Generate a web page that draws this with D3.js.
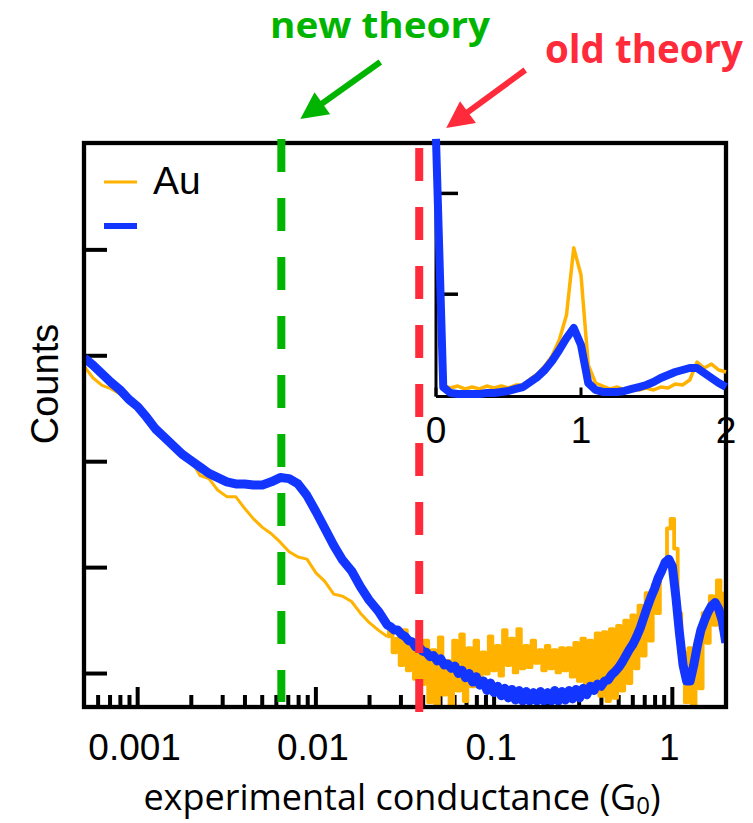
<!DOCTYPE html>
<html>
<head>
<meta charset="utf-8">
<script src="https://cdn.jsdelivr.net/npm/d3@7"></script>
<style>
  body { margin: 0; background: #fff; }
</style>
</head>
<body>
<div id="chart"></div>
<script>
const width = 753, height = 823;

// histogram bins, log10 of conductance (G0): coarse below -1.6, fine above
const binLog = [
  -3.30, -3.25, -3.20, -3.15, -3.10, -3.05, -3.00, -2.95, -2.90, -2.85,
  -2.80, -2.75, -2.70, -2.65, -2.60, -2.55, -2.50, -2.45, -2.40, -2.35,
  -2.30, -2.25, -2.20, -2.15, -2.10, -2.05, -2.00, -1.95, -1.90, -1.85,
  -1.80, -1.75, -1.70, -1.65,
  -1.60, -1.58, -1.56, -1.54, -1.52, -1.50, -1.48, -1.46, -1.44, -1.42,
  -1.40, -1.38, -1.36, -1.34, -1.32, -1.30, -1.28, -1.26, -1.24, -1.22,
  -1.20, -1.18, -1.16, -1.14, -1.12, -1.10, -1.08, -1.06, -1.04, -1.02,
  -1.00, -0.98, -0.96, -0.94, -0.92, -0.90, -0.88, -0.86, -0.84, -0.82,
  -0.80, -0.78, -0.76, -0.74, -0.72, -0.70, -0.68, -0.66, -0.64, -0.62,
  -0.60, -0.58, -0.56, -0.54, -0.52, -0.50, -0.48, -0.46, -0.44, -0.42,
  -0.40, -0.38, -0.36, -0.34, -0.32, -0.30, -0.28, -0.26, -0.24, -0.22,
  -0.20, -0.18, -0.16, -0.14, -0.12, -0.10, -0.08, -0.06, -0.04, -0.02,
  0.00, 0.02, 0.04, 0.06, 0.08, 0.10, 0.12, 0.14, 0.16, 0.18,
  0.20, 0.22, 0.24, 0.26, 0.28, 0.30
];

const auCounts = [
  390, 379, 372, 369, 364, 357, 350, 340, 333, 323,
  316, 309, 301, 287, 284, 273, 267, 267, 256, 246,
  238, 232, 224, 215, 210, 208, 195, 187, 175, 173,
  168, 157, 148, 141,
  135, 144, 120, 133, 108, 141, 103, 129, 95, 137,
  90, 131, 73, 122, 69, 134, 80, 112, 70, 131,
  84, 137, 74, 124, 88, 131, 93, 120, 100, 135,
  103, 126, 98, 141, 108, 133, 101, 142, 105, 126,
  106, 131, 110, 122, 103, 126, 105, 122, 101, 124,
  103, 124, 97, 129, 93, 133, 90, 131, 84, 138,
  79, 139, 74, 142, 77, 145, 84, 150, 91, 155,
  105, 164, 117, 176, 131, 184, 157, 195, 207, 237,
  246, 218, 157, 120, 73, 124, 69, 131, 86, 157,
  129, 173, 146, 188, 142, 176
];

const blueCounts = [
  398, 391, 383, 375, 368, 359, 352, 342, 331, 323,
  315, 307, 301, 295, 289, 285, 281, 279, 279, 278,
  278, 281, 285, 284, 279, 268, 253, 237, 221, 207,
  197, 182, 169, 159,
  146, 144, 141, 141, 137, 135, 131, 130, 125, 125,
  121, 120, 116, 117, 112, 114, 108, 109, 105, 107,
  100, 103, 96, 100, 92, 97, 89, 93, 84, 91,
  82, 88, 79, 86, 77, 85, 75, 84, 74, 83,
  74, 82, 74, 83, 74, 82, 74, 84, 74, 83,
  75, 84, 76, 85, 77, 86, 80, 88, 84, 90,
  88, 93, 94, 99, 102, 106, 111, 117, 123, 128,
  135, 143, 153, 163, 172, 180, 190, 197, 205, 208,
  201, 172, 138, 108, 93, 93, 108, 126, 141, 150,
  158, 164, 167, 161, 150, 129
];

// inset: linear conductance
const insetG = [
  0, 0.05, 0.1, 0.15, 0.2, 0.25, 0.3, 0.35, 0.4, 0.45,
  0.5, 0.55, 0.6, 0.65, 0.7, 0.75, 0.8, 0.85, 0.9, 0.95,
  1.0, 1.05, 1.1, 1.15, 1.2, 1.25, 1.3, 1.35, 1.4, 1.45,
  1.5, 1.55, 1.6, 1.65, 1.7, 1.75, 1.8, 1.85, 1.9, 1.95, 2.0
];
const insetAu = [
  2200, 99, 69, 89, 60, 79, 60, 89, 69, 89,
  69, 99, 99, 159, 208, 288, 387, 546, 794, 1460,
  1190, 298, 119, 89, 60, 79, 50, 69, 50, 69,
  50, 79, 69, 109, 99, 149, 327, 268, 307, 248, 228
];
const insetBlue = [
  2540, 79, 20, 10, 10, 10, 10, 20, 20, 30,
  40, 60, 79, 129, 179, 248, 337, 446, 565, 665,
  496, 119, 50, 30, 30, 30, 40, 60, 79, 99,
  129, 169, 198, 228, 248, 268, 268, 218, 169, 119, 79
];

const xMajor = [0.001, 0.01, 0.1, 1];
const xTickLabels = ["0.001", "0.01", "0.1", "1"];
const yTicks = [100, 200, 300, 400, 500];
const insetXTicks = [0, 1, 2];
const insetYTicks = [1000, 2000];

const orange = "#ffb300", blue = "#1236ff";

const theory = [
  {name: "new theory", g: 0.0064, color: "#00b400", y1: 139, y2: 702,
   tip: [19, -24], tail: [99, -81], label: [270, 38], size: 35, span: 220},
  {name: "old theory", g: 0.038, color: "#ff2b3b", y1: 148, y2: 712,
   tip: [27, -15], tail: [106, -73], label: [545, 63], size: 39, span: 198}
];

const svg = d3.select("#chart").append("svg")
    .attr("width", width)
    .attr("height", height);

const mLeft = 84, mRight = 726, mTop = 143, mBottom = 707;

const x = d3.scaleLog().domain([5e-4, 2]).range([mLeft, mRight]);
const y = d3.scaleLinear().domain([68.4, 600.9]).range([mBottom, mTop]);

const isMajor = d => Math.abs(Math.log10(d) - Math.round(Math.log10(d))) < 1e-6;

// ticks (under the data)
const ticks = svg.append("g");
ticks.selectAll(".xt")
    .data(x.ticks().filter(d => d > 5e-4 && d < 2))
    .enter().append("line")
    .attr("x1", d => x(d)).attr("x2", d => x(d))
    .attr("y1", mBottom).attr("y2", d => mBottom - (isMajor(d) ? 20 : 12))
    .attr("stroke", "#000").attr("stroke-width", 4);

ticks.selectAll(".yt")
    .data(yTicks)
    .enter().append("line")
    .attr("x1", mLeft).attr("x2", mLeft + 23)
    .attr("y1", d => y(d)).attr("y2", d => y(d))
    .attr("stroke", "#000").attr("stroke-width", 4);

svg.append("g").selectAll("text")
    .data(xMajor)
    .enter().append("text")
    .attr("x", d => x(d) - 3)
    .attr("y", 760)
    .attr("text-anchor", "middle")
    .style("font-family", "'Liberation Sans', Arial, sans-serif")
    .style("font-size", "37px")
    .text((d, i) => xTickLabels[i]);

// data
svg.append("clipPath").attr("id", "plotclip")
  .append("rect").attr("x", mLeft).attr("y", mTop)
    .attr("width", mRight - mLeft).attr("height", mBottom - mTop);

const fine = binLog.indexOf(-1.60);
const pts = counts => binLog.map((v, i) => [Math.pow(10, v), counts[i]]);

// orange: smooth part as a line, fine noisy part as histogram steps
const pieces = [
  {p: pts(auCounts).slice(0, fine + 1), color: orange, width: 3, curve: d3.curveLinear},
  {p: pts(auCounts).slice(fine), color: orange, width: 3.8, curve: d3.curveStep},
  {p: pts(blueCounts), color: blue, width: 9, curve: d3.curveLinear}
];

svg.append("g").attr("clip-path", "url(#plotclip)")
  .selectAll("path")
    .data(pieces)
    .enter().append("path")
    .attr("d", s => d3.line().curve(s.curve).x(d => x(d[0])).y(d => y(d[1]))(s.p))
    .attr("fill", "none")
    .attr("stroke", s => s.color)
    .attr("stroke-width", s => s.width)
    .attr("stroke-linejoin", "round");

// frame
svg.append("rect")
    .attr("x", mLeft).attr("y", mTop)
    .attr("width", mRight - mLeft).attr("height", mBottom - mTop)
    .attr("fill", "none").attr("stroke", "#000").attr("stroke-width", 4.3);

// inset
const xi = d3.scaleLinear().domain([0, 2]).range([436, mRight]);
const yi = d3.scaleLinear().domain([0, 2500]).range([395, mTop]);
const inset = svg.append("g");
const ib = 396.5;

inset.append("line").attr("x1", xi(0)).attr("x2", xi(0)).attr("y1", mTop).attr("y2", ib)
    .attr("stroke", "#000").attr("stroke-width", 3);
inset.append("line").attr("x1", xi(0)).attr("x2", mRight).attr("y1", ib).attr("y2", ib)
    .attr("stroke", "#000").attr("stroke-width", 3);
inset.selectAll(".iyt").data(insetYTicks).enter().append("line")
    .attr("x1", xi(0)).attr("x2", xi(0) + 22)
    .attr("y1", d => yi(d)).attr("y2", d => yi(d))
    .attr("stroke", "#000").attr("stroke-width", 3.5);
inset.selectAll(".ixt").data(insetXTicks).enter().append("line")
    .attr("x1", d => xi(d)).attr("x2", d => xi(d))
    .attr("y1", ib).attr("y2", ib - 9)
    .attr("stroke", "#000").attr("stroke-width", 3);
inset.selectAll("text").data(insetXTicks).enter().append("text")
    .attr("x", d => xi(d))
    .attr("y", 443)
    .attr("text-anchor", "middle")
    .style("font-family", "'Liberation Sans', Arial, sans-serif")
    .style("font-size", "37px")
    .text(d => d);

const iline = d3.line().x(d => xi(d[0])).y(d => yi(d[1]));
const insetSeries = [
  {counts: insetAu, color: orange, width: 3.5},
  {counts: insetBlue, color: blue, width: 8}
];
inset.selectAll("path").data(insetSeries).enter().append("path")
    .attr("d", s => iline(insetG.map((g, i) => [g, s.counts[i]])))
    .attr("fill", "none")
    .attr("stroke", s => s.color)
    .attr("stroke-width", s => s.width)
    .attr("stroke-linejoin", "round");

// theory lines, arrows, labels
const th = svg.append("g");
th.selectAll("line").data(theory).enter().append("line")
    .attr("x1", d => x(d.g)).attr("x2", d => x(d.g))
    .attr("y1", d => d.y1).attr("y2", d => d.y2)
    .attr("stroke", d => d.color)
    .attr("stroke-width", 8)
    .attr("stroke-dasharray", "33 26");

theory.forEach(d => {
  const tx = x(d.g) + d.tip[0], ty = mTop + d.tip[1];
  const sx = x(d.g) + d.tail[0], sy = mTop + d.tail[1];
  const len = Math.hypot(sx - tx, sy - ty);
  const ux = (sx - tx) / len, uy = (sy - ty) / len;
  const hl = 27, hw = 13.5;
  const bx = tx + ux * hl, by = ty + uy * hl;
  th.append("line")
      .attr("x1", sx).attr("y1", sy).attr("x2", bx - ux * 2).attr("y2", by - uy * 2)
      .attr("stroke", d.color).attr("stroke-width", 6);
  th.append("path")
      .attr("d", `M${tx},${ty}L${bx - uy * hw},${by + ux * hw}L${bx + uy * hw},${by - ux * hw}Z`)
      .attr("fill", d.color);
  th.append("text")
      .attr("x", d.label[0]).attr("y", d.label[1])
      .attr("fill", d.color)
      .attr("textLength", d.span)
      .attr("lengthAdjust", "spacingAndGlyphs")
      .style("font-family", "'Open Sans', sans-serif")
      .style("font-weight", "700")
      .style("font-size", d.size + "px")
      .text(d.name);
});

// legend
const legend = svg.append("g");
const legendItems = [
  {label: "Au", color: orange, width: 3, y: 182},
  {label: "", color: blue, width: 6, y: 226}
];
legend.selectAll("line").data(legendItems).enter().append("line")
    .attr("x1", 104).attr("x2", 137)
    .attr("y1", d => d.y).attr("y2", d => d.y)
    .attr("stroke", d => d.color).attr("stroke-width", d => d.width);
legend.selectAll("text").data(legendItems).enter().append("text")
    .attr("x", 153).attr("y", d => d.y + 12)
    .style("font-family", "'Liberation Sans', Arial, sans-serif")
    .style("font-size", "39px")
    .text(d => d.label);

// axis titles
svg.append("text")
    .attr("transform", "translate(58,384) rotate(-90)")
    .attr("text-anchor", "middle")
    .style("font-family", "'Liberation Sans', Arial, sans-serif")
    .style("font-size", "38px")
    .text("Counts");

const xt = svg.append("text")
    .attr("x", 402).attr("y", 810)
    .attr("text-anchor", "middle")
    .style("font-family", "'Open Sans', sans-serif")
    .style("font-size", "36px")
    .text("experimental conductance (G");
xt.append("tspan").attr("dy", 4).style("font-size", "24px").text("0");
xt.append("tspan").attr("dy", -4).text(")");
</script>
</body>
</html>
